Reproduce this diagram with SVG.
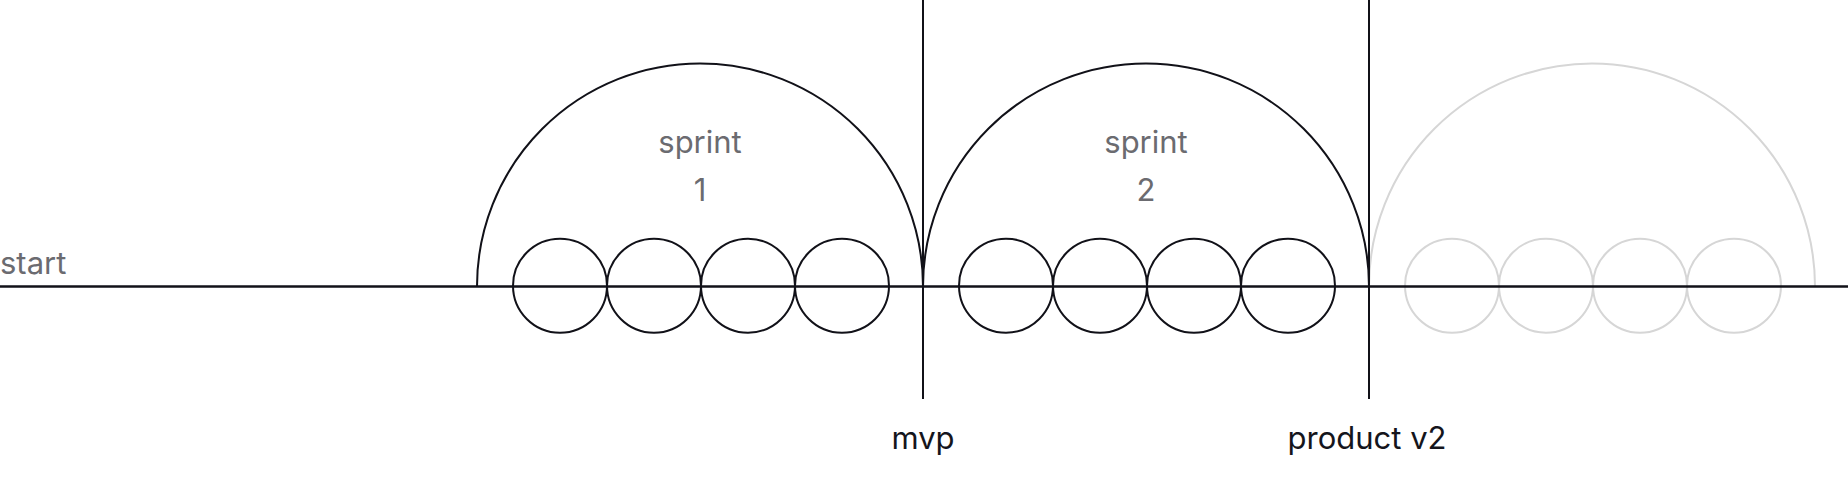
<svg xmlns="http://www.w3.org/2000/svg" width="1848" height="488" viewBox="0 0 1848 488">
<style>
.bg{fill:#ffffff}
.ln{stroke:#111118;stroke-width:2;fill:none}
.hl{stroke:#111118;stroke-width:2.5;fill:none}
.dk{stroke:#111118;stroke-width:2;fill:none}
.lt{stroke:#d6d6d6;stroke-width:2;fill:none}
.tg{font-family:Inter,"Liberation Sans",sans-serif;font-size:31px;fill:#6b6b70}
.tb{font-family:Inter,"Liberation Sans",sans-serif;font-size:31px;fill:#15151c}
</style>
<rect class="bg" x="0" y="0" width="1848" height="488"/>
<g id="start">
<text class="tg" x="0" y="274">start</text>
</g>
<g id="sprint1">
<path class="dk" d="M477,286.5 A223,223 0 0 1 923,286.5"/>
<circle class="dk" cx="560" cy="285.7" r="47"/>
<circle class="dk" cx="654" cy="285.7" r="47"/>
<circle class="dk" cx="748" cy="285.7" r="47"/>
<circle class="dk" cx="842" cy="285.7" r="47"/>
<text class="tg" x="700" y="153" text-anchor="middle">sprint</text>
<text class="tg" x="700" y="201" text-anchor="middle">1</text>
</g>
<g id="sprint2">
<path class="dk" d="M923,286.5 A223,223 0 0 1 1369,286.5"/>
<circle class="dk" cx="1006" cy="285.7" r="47"/>
<circle class="dk" cx="1100" cy="285.7" r="47"/>
<circle class="dk" cx="1194" cy="285.7" r="47"/>
<circle class="dk" cx="1288" cy="285.7" r="47"/>
<text class="tg" x="1146" y="153" text-anchor="middle">sprint</text>
<text class="tg" x="1146" y="201" text-anchor="middle">2</text>
</g>
<g id="sprint3">
<path class="lt" d="M1369,286.5 A223,223 0 0 1 1815,286.5"/>
<circle class="lt" cx="1452" cy="285.7" r="47"/>
<circle class="lt" cx="1546" cy="285.7" r="47"/>
<circle class="lt" cx="1640" cy="285.7" r="47"/>
<circle class="lt" cx="1734" cy="285.7" r="47"/>
</g>
<g id="connectors">
<line class="hl" x1="0" y1="286.5" x2="1848" y2="286.5"/>
<line class="ln" x1="923" y1="0" x2="923" y2="399"/>
<line class="ln" x1="1369" y1="0" x2="1369" y2="399"/>
</g>
<g id="mvp">
<text class="tb" x="923" y="449" text-anchor="middle">mvp</text>
</g>
<g id="productv2">
<text class="tb" x="1367" y="449" text-anchor="middle">product v2</text>
</g>
</svg>
